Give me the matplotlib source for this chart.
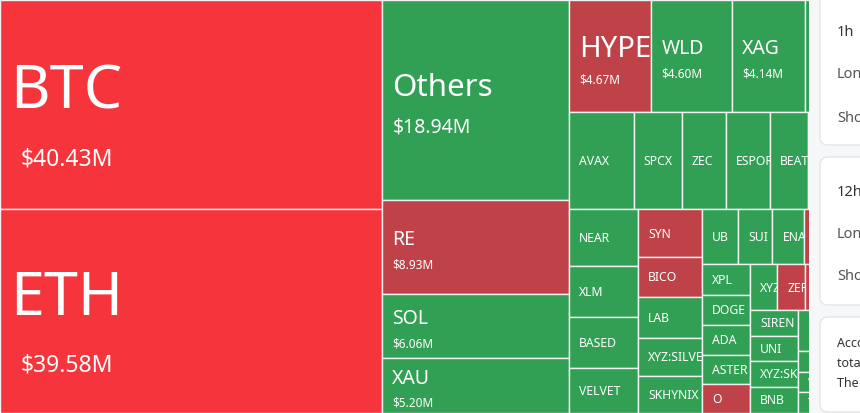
import matplotlib
matplotlib.use('Agg')
import matplotlib.pyplot as plt
from matplotlib.patches import Rectangle, FancyBboxPatch
from matplotlib.transforms import Bbox, TransformedBbox

plt.rcParams['font.family'] = ['Noto Sans', 'DejaVu Sans']

# Liquidation volume per coin ($M) and which side dominated
names = ['BTC', 'ETH', 'Others', 'RE', 'SOL', 'XAU', 'HYPE', 'WLD', 'XAG', 'PUMP',
         'AVAX', 'SPCX', 'ZEC', 'ESPORTS', 'BEAT', 'LINK',
         'NEAR', 'XLM', 'BASED', 'VELVET',
         'SYN', 'BICO', 'LAB', 'XYZ:SILVER', 'SKHYNIX',
         'UB', 'SUI', 'ENA', 'FARTCOIN',
         'XPL', 'DOGE', 'ADA', 'ASTER', 'O',
         'XYZ:GOLD', 'ZEREBRO', 'TRUMP',
         'SIREN', 'UNI', 'XYZ:SKHX', 'BNB',
         'PEPE', 'LTC', 'WIF', 'TAO']
values = [40.43, 39.58, 18.94, 8.93, 6.06, 5.20, 4.67, 4.60, 4.14, 1.98,
          3.16, 2.37, 2.17, 2.17, 1.90, 1.56,
          1.97, 1.79, 1.76, 1.58,
          1.53, 1.31, 1.33, 1.24, 1.20,
          1.00, 0.95, 0.87, 1.01,
          0.74, 0.72, 0.72, 0.71, 0.70,
          0.63, 0.63, 0.82,
          0.62, 0.62, 0.62, 0.64,
          0.88, 0.44, 0.44, 0.44]
side = ['red+', 'red+', 'g', 'r', 'g', 'g', 'r', 'g', 'g', 'g',
        'g', 'g', 'g', 'g', 'g', 'g',
        'g', 'g', 'g', 'g',
        'r', 'r', 'g', 'g', 'g',
        'g', 'g', 'g', 'r',
        'g', 'g', 'g', 'g', 'r',
        'g', 'r', 'r',
        'g', 'g', 'g', 'g',
        'g', 'g', 'g', 'g']

val = dict(zip(names, values))
col = dict(zip(names, side))

# nesting of the treemap slices ('h' = side by side, 'v' = stacked)
tree = ('h', [
    ('v', ['BTC', 'ETH']),
    ('v', ['Others', 'RE', 'SOL', 'XAU']),
    ('v', [
        ('h', ['HYPE', 'WLD', 'XAG', 'PUMP']),
        ('h', ['AVAX', 'SPCX', 'ZEC', 'ESPORTS', 'BEAT', 'LINK']),
        ('h', [
            ('v', ['NEAR', 'XLM', 'BASED', 'VELVET']),
            ('v', ['SYN', 'BICO', 'LAB', 'XYZ:SILVER', 'SKHYNIX']),
            ('v', [
                ('h', ['UB', 'SUI', 'ENA', 'FARTCOIN']),
                ('h', [
                    ('v', ['XPL', 'DOGE', 'ADA', 'ASTER', 'O']),
                    ('v', [
                        ('h', ['XYZ:GOLD', 'ZEREBRO', 'TRUMP']),
                        ('h', [('v', ['SIREN', 'UNI', 'XYZ:SKHX', 'BNB']),
                               ('v', ['PEPE', 'LTC', 'WIF', 'TAO'])]),
                    ]),
                ]),
            ]),
        ]),
    ]),
])

colors = {'red+': '#F5353B', 'r': '#BF4248', 'g': '#31A054'}


def total(node):
    if isinstance(node, str):
        return val[node]
    return sum(total(c) for c in node[1])


def layout(node, x, y, w, h, out):
    if isinstance(node, str):
        out.append((node, x, y, w, h))
        return
    direc, kids = node
    s = total(node)
    pos = 0.0
    for k in kids:
        f = total(k) / s
        if direc == 'h':
            layout(k, x + pos * w, y, f * w, h, out)
        else:
            layout(k, x, y + pos * h, w, f * h, out)
        pos += f


fig = plt.figure(figsize=(8.6, 4.13), dpi=100)
ax = fig.add_axes([0, 0, 1, 1])
ax.set_xlim(0, 860)
ax.set_ylim(413, 0)
ax.axis('off')

rects = []
layout(tree, 0, 0, 840, 413, rects)

# label styles: (name size, value size, name dx, value dx, name dy, value dy)
styles = {
    'xl': (44, 16.5, 10, 21, 4, 61),
    'lg': (22.5, 14, 10, 10, -4, 33),
    'hype': (21, 8.5, 10, 10, 1, 27),
    'md': (14, 8.5, 10, 10, -2, 21),
}
tier = {'BTC': 'xl', 'ETH': 'xl', 'Others': 'lg', 'HYPE': 'hype',
        'RE': 'md', 'SOL': 'md', 'XAU': 'md', 'WLD': 'md', 'XAG': 'md'}

for name, x, y, w, h in rects:
    ax.add_patch(Rectangle((x, y), w, h, facecolor=colors[col[name]],
                           edgecolor='#F2F2F2', linewidth=1.0))
    clip = TransformedBbox(Bbox.from_bounds(x, y, w, h), ax.transData)
    cy = y + h / 2
    texts = []
    if name in tier:
        ns, vs, ndx, vdx, ndy, vdy = styles[tier[name]]
        texts.append(ax.text(x + ndx, cy + ndy, name, fontsize=ns,
                             color='white', va='baseline', ha='left'))
        texts.append(ax.text(x + vdx, cy + vdy, '$%.2fM' % val[name],
                             fontsize=vs, color='white', va='baseline',
                             ha='left'))
    else:
        texts.append(ax.text(x + 10, cy + 4.5, name, fontsize=8.8,
                             color='white', va='baseline', ha='left'))
    for t in texts:
        t.set_clip_box(clip)
        t.set_clip_on(True)

# side panel that covers the right edge of the map
ax.add_patch(Rectangle((809, -5), 60, 425, facecolor='#F6F7F8',
                       edgecolor='none', zorder=5))
cards = [(-20, 165), (157, 148), (317, 95)]
for cy0, ch in cards:
    ax.add_patch(FancyBboxPatch((820, cy0), 60, ch,
                                boxstyle='round,pad=0,rounding_size=8',
                                facecolor='white', edgecolor='#E3E5E8',
                                linewidth=1.0, zorder=6))

ax.text(837, 32, '1h', fontsize=10.5, color='#333333', fontweight='bold',
        va='center', ha='left', zorder=7)
ax.text(837, 75, 'Long', fontsize=10.5, color='#555555', va='center',
        ha='left', zorder=7)
ax.text(837, 118, 'Short', fontsize=10.5, color='#555555', va='center',
        ha='left', zorder=7)
ax.text(837, 193, '12h', fontsize=10.5, color='#333333', fontweight='bold',
        va='center', ha='left', zorder=7)
ax.text(837, 234, 'Long', fontsize=10.5, color='#555555', va='center',
        ha='left', zorder=7)
ax.text(837, 276, 'Short', fontsize=10.5, color='#555555', va='center',
        ha='left', zorder=7)
ax.text(837, 343, 'According to the data,', fontsize=9, color='#333333',
        va='center', ha='left', zorder=7)
ax.text(837, 363, 'total liquidations', fontsize=9, color='#333333',
        va='center', ha='left', zorder=7)
ax.text(837, 384, 'The largest single', fontsize=9, color='#333333',
        va='center', ha='left', zorder=7)

fig.savefig('out.png', dpi=100)
